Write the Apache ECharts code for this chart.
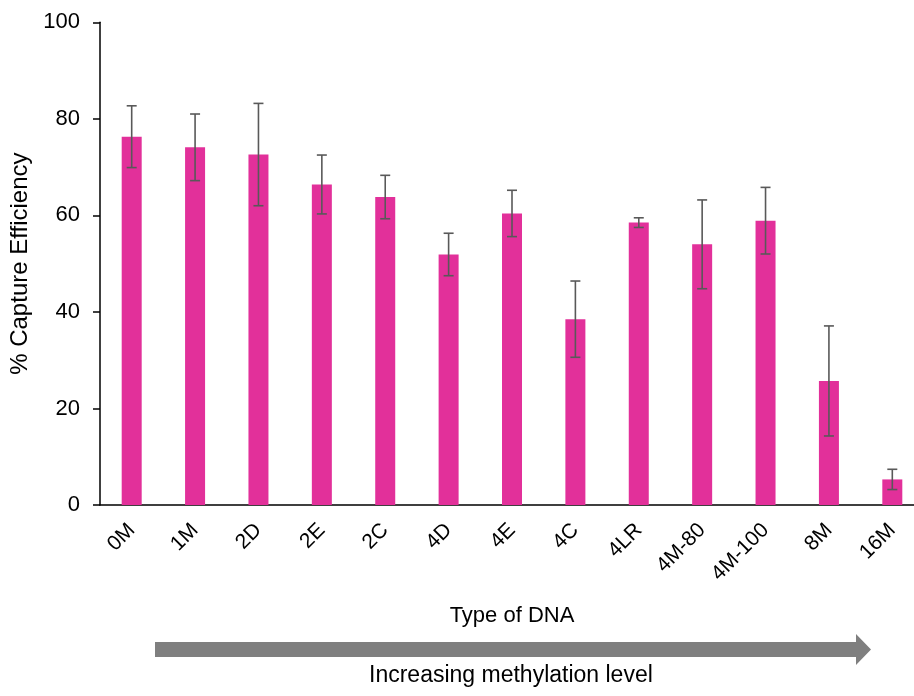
<!DOCTYPE html>
<html>
<head>
<meta charset="utf-8">
<script src="https://cdn.jsdelivr.net/npm/echarts@6/dist/echarts.min.js"></script>
<style>
  html, body { margin: 0; padding: 0; background: #fff; }
  #chart { width: 914px; height: 696px; }
</style>
</head>
<body>
<div id="chart"></div>
<script>
// DNA types, ordered by methylation level
const categories = ['0M', '1M', '2D', '2E', '2C', '4D', '4E', '4C', '4LR', '4M-80', '4M-100', '8M', '16M'];
// mean capture efficiency (%)
const efficiency = [76.3, 74.1, 72.6, 66.4, 63.8, 51.9, 60.4, 38.5, 58.5, 54.0, 58.9, 25.7, 5.3];
// standard deviation (%)
const errorSD = [6.4, 6.9, 10.6, 6.1, 4.5, 4.4, 4.8, 7.9, 1.0, 9.2, 6.9, 11.4, 2.1];
// y-axis ticks
const yTicks = [0, 20, 40, 60, 80, 100];

const FONT = 'Liberation Sans, Arial, sans-serif';
const chart = echarts.init(document.getElementById('chart'));

const errorData = categories.map((c, i) => [i, efficiency[i] - errorSD[i], efficiency[i] + errorSD[i]]);

chart.setOption({
  animation: false,
  backgroundColor: '#ffffff',
  grid: {
    left: 100, top: 22.3, width: 824, height: 482.7,
    containLabel: false, outerBoundsMode: 'none'
  },
  xAxis: {
    type: 'category',
    data: categories,
    boundaryGap: true,
    axisLine: { lineStyle: { color: '#000', width: 1.5 } },
    axisTick: { show: false },
    axisLabel: { rotate: 45, margin: 22, fontSize: 21, color: '#000', fontFamily: FONT, interval: 0 },
    name: 'Type of DNA',
    nameLocation: 'middle',
    nameGap: 100,
    nameTextStyle: { fontSize: 22, color: '#000', fontFamily: FONT }
  },
  yAxis: {
    type: 'value',
    min: yTicks[0],
    max: yTicks[yTicks.length - 1],
    interval: yTicks[1] - yTicks[0],
    axisLine: { show: true, lineStyle: { color: '#000', width: 1.5 } },
    axisTick: { show: true, length: 7, lineStyle: { color: '#000', width: 1.5 } },
    splitLine: { show: false },
    axisLabel: { fontSize: 22, color: '#000', fontFamily: FONT, margin: 20 },
    name: '% Capture Efficiency',
    nameLocation: 'middle',
    nameGap: 66,
    nameTextStyle: { fontSize: 24, color: '#000', fontFamily: FONT }
  },
  series: [
    {
      type: 'bar',
      data: efficiency,
      barWidth: 20,
      itemStyle: { color: '#e2309a' }
    },
    {
      type: 'custom',
      data: errorData,
      z: 10,
      renderItem: function (params, api) {
        const x = api.value(0);
        const lo = api.coord([x, api.value(1)]);
        const hi = api.coord([x, api.value(2)]);
        const half = 5;
        const style = { stroke: '#595959', lineWidth: 1.6 };
        return {
          type: 'group',
          children: [
            { type: 'line', shape: { x1: lo[0], y1: lo[1], x2: hi[0], y2: hi[1] }, style },
            { type: 'line', shape: { x1: hi[0] - half, y1: hi[1], x2: hi[0] + half, y2: hi[1] }, style },
            { type: 'line', shape: { x1: lo[0] - half, y1: lo[1], x2: lo[0] + half, y2: lo[1] }, style }
          ]
        };
      }
    }
  ],
  graphic: [
    {
      type: 'polygon',
      shape: {
        points: [[155, 642], [856, 642], [856, 634], [871, 649.5], [856, 665], [856, 657], [155, 657]]
      },
      style: { fill: '#7f7f7f' }
    },
    {
      type: 'text',
      left: 369,
      top: 664,
      style: {
        text: 'Increasing methylation level',
        fontSize: 23,
        fontFamily: FONT,
        fill: '#000'
      }
    }
  ]
});
</script>
</body>
</html>
